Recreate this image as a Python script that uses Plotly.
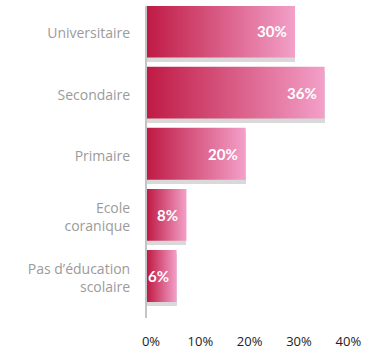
import plotly.graph_objects as go

categories = ["Pas d’éducation<br>scolaire", "Ecole<br>coranique", "Primaire", "Secondaire", "Universitaire"]
values = [0.06, 0.08, 0.20, 0.36, 0.30]
value_labels = ["6%", "8%", "20%", "36%", "30%"]
tick_vals = [0, 0.1, 0.2, 0.3, 0.4]
tick_text = ["0%", "10%", "20%", "30%", "40%"]

positions = list(range(len(categories)))
half = 0.425
shadow = 0.068
c_left = "#bf1a44"
c_right = "#f3a0c9"

fig = go.Figure()

# shadow bars
fig.add_trace(go.Bar(
    x=values, y=positions, orientation="h",
    width=2 * half, offset=-half - shadow,
    marker=dict(color="#d9d9d9", line=dict(width=0)),
    hoverinfo="skip", showlegend=False,
))

# gradient bars
for p, v in zip(positions, values):
    fig.add_trace(go.Scatter(
        x=[0, v, v, 0, 0],
        y=[p - half, p - half, p + half, p + half, p - half],
        mode="lines", fill="toself",
        fillgradient=dict(type="horizontal", colorscale=[[0, c_left], [1, c_right]]),
        line=dict(width=0, color="rgba(0,0,0,0)"),
        hoverinfo="skip", showlegend=False,
    ))

for p, v, t in zip(positions, values, value_labels):
    fig.add_annotation(
        x=v, y=p, text="<b>" + t + "</b>", showarrow=False,
        xanchor="right", xshift=-6,
        font=dict(family="Lato", size=15, color="white"),
    )

fig.update_layout(
    width=379, height=360,
    margin=dict(l=147, r=10, t=6, b=42),
    plot_bgcolor="white", paper_bgcolor="white",
    xaxis=dict(
        range=[0, 0.45], tickvals=tick_vals, ticktext=tick_text,
        showgrid=False, zeroline=False, showline=False, automargin=False,
        tickfont=dict(family="Open Sans", size=13, color="#222222"),
        ticklabelstandoff=14, ticklabelshift=4, fixedrange=True,
    ),
    yaxis=dict(
        range=[-0.687, 4.417], tickvals=positions, ticktext=categories,
        showgrid=False, zeroline=False, automargin=False,
        showline=True, linecolor="#c4c4c4", linewidth=2,
        tickfont=dict(family="Open Sans", size=14, color="#9b9b9b"),
        ticklabelstandoff=12, ticklabelshift=2, fixedrange=True,
    ),
    bargap=0,
)

fig.write_html("out.html", config={"displayModeBar": False},
               post_script="document.body.style.margin='0';")
